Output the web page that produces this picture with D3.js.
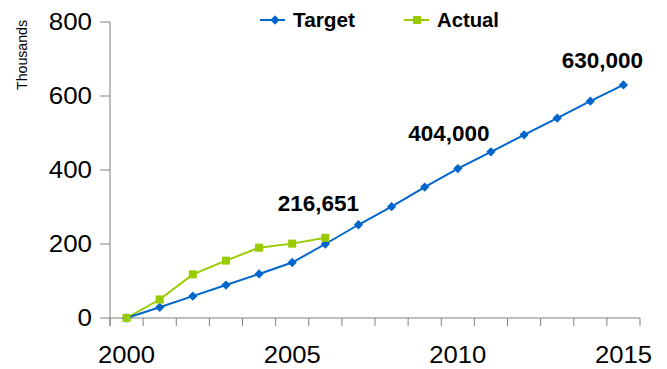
<!DOCTYPE html>
<html>
<head>
<meta charset="utf-8">
<script src="https://cdn.jsdelivr.net/npm/d3@7"></script>
<style>
  html, body { margin: 0; padding: 0; background: #fff; }
  svg { display: block; font-family: "Liberation Sans", Arial, sans-serif; }
</style>
</head>
<body>
<svg id="chart" width="667" height="369"></svg>
<script>
// Years on the category axis
const years = d3.range(2000, 2016);
const yearLabels = [2000, 2005, 2010, 2015];

// Values in thousands
const target = [0, 29, 59, 89, 119, 150, 200, 252, 301, 354, 404, 449, 495, 540, 586, 630];
const actual = [0, 50, 118, 155, 190, 201, 216.651];

const yTicks = [0, 200, 400, 600, 800];

// Callouts: which series/year gets a value label
const callouts = [
  { series: "actual", year: 2006, dx: -7, dy: -27 },
  { series: "target", year: 2010, dx: -9, dy: -28 },
  { series: "target", year: 2015, dx: -21, dy: -17 }
];

const blue = "#0066CC";
const green = "#99CC00";
const axisColor = "#7f7f7f";

const svg = d3.select("#chart");

const x = d3.scaleBand().domain(years).range([110, 640]).paddingInner(0).paddingOuter(0);
const y = d3.scaleLinear().domain([0, 800]).range([318, 22]);
const cx = yr => x(yr) + x.bandwidth() / 2;

// Y axis
const yAxis = svg.append("g");
yAxis.append("line")
  .attr("x1", x.range()[0]).attr("x2", x.range()[0])
  .attr("y1", y(800)).attr("y2", y(0) + 8)
  .attr("stroke", axisColor).attr("stroke-width", 1);
yAxis.selectAll(".ytick").data(yTicks).join("line")
  .attr("x1", x.range()[0] - 10).attr("x2", x.range()[0])
  .attr("y1", d => y(d)).attr("y2", d => y(d))
  .attr("stroke", axisColor);
yAxis.selectAll(".ylab").data(yTicks).join("text")
  .attr("x", 92).attr("y", d => y(d) + 8)
  .attr("text-anchor", "end")
  .attr("font-size", 23)
  .attr("textLength", d => String(d).length * 14.4)
  .attr("lengthAdjust", "spacingAndGlyphs")
  .attr("fill", "#000")
  .text(d => d);

// X axis with ticks between categories
const xAxis = svg.append("g");
xAxis.append("line")
  .attr("x1", x.range()[0]).attr("x2", x.range()[1])
  .attr("y1", y(0)).attr("y2", y(0))
  .attr("stroke", axisColor);
const boundaries = years.map(d => x(d)).concat([x.range()[1]]);
xAxis.selectAll(".xtick").data(boundaries).join("line")
  .attr("x1", d => d).attr("x2", d => d)
  .attr("y1", y(0)).attr("y2", y(0) + 8)
  .attr("stroke", axisColor);
xAxis.selectAll(".xlab").data(yearLabels).join("text")
  .attr("x", d => cx(d)).attr("y", 363)
  .attr("text-anchor", "middle")
  .attr("font-size", 23)
  .attr("textLength", 57)
  .attr("lengthAdjust", "spacingAndGlyphs")
  .attr("fill", "#000")
  .text(d => d);

// Axis title
svg.append("text")
  .attr("transform", "translate(27,55) rotate(-90)")
  .attr("text-anchor", "middle")
  .attr("font-size", 15)
  .attr("textLength", 70)
  .attr("lengthAdjust", "spacingAndGlyphs")
  .attr("fill", "#000")
  .text("Thousands");

// Series lines
const line = d3.line().x((d, i) => cx(years[i])).y(d => y(d));

svg.append("path").datum(actual)
  .attr("d", line).attr("fill", "none")
  .attr("stroke", green).attr("stroke-width", 2);
svg.append("path").datum(target)
  .attr("d", line).attr("fill", "none")
  .attr("stroke", blue).attr("stroke-width", 2);

// Markers
const diamond = d3.symbol().type(d3.symbolDiamond2).size(55);
svg.selectAll(".tmark").data(target).join("path")
  .attr("transform", (d, i) => `translate(${cx(years[i])},${y(d)})`)
  .attr("d", diamond).attr("fill", blue);
svg.selectAll(".amark").data(actual).join("rect")
  .attr("x", (d, i) => cx(years[i]) - 4).attr("y", d => y(d) - 4)
  .attr("width", 8).attr("height", 8).attr("fill", green);

// Value callouts
const fmt = d3.format(",");
const seriesMap = { target, actual };
svg.selectAll(".callout").data(callouts).join("text")
  .attr("x", d => cx(d.year) + d.dx)
  .attr("y", d => y(seriesMap[d.series][years.indexOf(d.year)]) + d.dy)
  .attr("text-anchor", "middle")
  .attr("font-size", 22.5)
  .attr("font-weight", "bold")
  .attr("fill", "#000")
  .text(d => fmt(Math.round(seriesMap[d.series][years.indexOf(d.year)] * 1000)));

// Legend
const legend = [
  { name: "Target", color: blue, x0: 260, shape: "diamond" },
  { name: "Actual", color: green, x0: 404, shape: "square" }
];
const lg = svg.selectAll(".legend").data(legend).join("g")
  .attr("transform", d => `translate(${d.x0},20)`);
lg.append("line").attr("x1", 0).attr("x2", 25).attr("y1", 0).attr("y2", 0)
  .attr("stroke", d => d.color).attr("stroke-width", 2);
lg.filter(d => d.shape === "diamond").append("path")
  .attr("transform", "translate(15,0)")
  .attr("d", diamond).attr("fill", d => d.color);
lg.filter(d => d.shape === "square").append("rect")
  .attr("x", 9).attr("y", -4).attr("width", 8).attr("height", 8)
  .attr("fill", d => d.color);
lg.append("text")
  .attr("x", 33).attr("y", 7)
  .attr("font-size", 20).attr("font-weight", "bold")
  .attr("textLength", 62)
  .attr("lengthAdjust", "spacingAndGlyphs")
  .attr("fill", "#000")
  .text(d => d.name);
</script>
</body>
</html>
